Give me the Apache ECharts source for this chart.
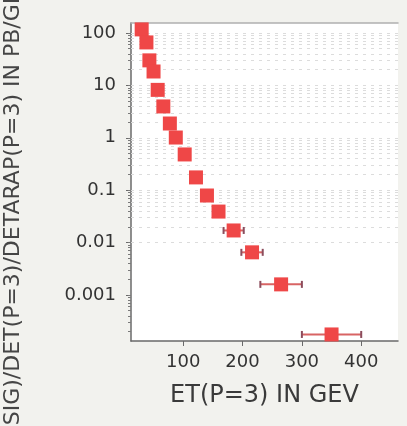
<!DOCTYPE html>
<html><head><meta charset="utf-8">
<script src="https://cdn.jsdelivr.net/npm/echarts@6/dist/echarts.min.js"></script>
<style>html,body{margin:0;padding:0;background:#f2f2ee;}#c{width:407px;height:426px;}</style>
</head><body><div id="c"></div>
<script>
// ---- data ----
const etCenters = [30, 38, 43, 50, 57, 66.5, 77.5, 87.5, 102.5, 121.5, 140, 159.5, 185, 216, 265, 350];
const etLow     = [27, 35, 40, 47, 54, 63, 74, 84, 99, 118, 136, 155, 168, 198, 230, 300];
const etHigh    = [33, 41, 46, 53, 60, 70, 81, 91, 106, 125, 144, 164, 202, 234, 300, 400];
const xsec      = [117, 66, 30, 18.4, 8.2, 3.96, 1.87, 1.01, 0.48, 0.175, 0.079, 0.039, 0.017, 0.0065, 0.00159, 0.000176];
const xTickValues = [100, 200, 300, 400];
const yTickValues = [0.001, 0.01, 0.1, 1, 10, 100];
const yTickLabels = ['0.001', '0.01', '0.1', '1', '10', '100'];
const yDecades = [0.0001, 0.001, 0.01, 0.1, 1, 10, 100];
const yMultipliers = [1, 2, 3, 4, 5, 6, 7, 8, 9];
const yMin = 1.32e-4, yMax = 155, xMin = 12, xMax = 462;

const gridValues = [];
yDecades.forEach(d => yMultipliers.forEach(m => {
  const v = +(d * m).toPrecision(6);
  if (v > yMin && v < yMax) gridValues.push(v);
}));

const FONT = 'DejaVu Sans';
const chart = echarts.init(document.getElementById('c'));
chart.setOption({
  animation: false,
  backgroundColor: '#f2f2ee',
  grid: { left: 131, right: 9, top: 23, bottom: 85, show: true, backgroundColor: '#ffffff', borderWidth: 0 },
  graphic: [{
    type: 'text', x: 13, y: 213, rotation: Math.PI / 2,
    style: { text: 'D(SIG)/DET(P=3)/DETARAP(P=3) IN PB/GEV', fontSize: 22, fontFamily: FONT,
             fill: '#454545', textAlign: 'center', textVerticalAlign: 'middle', align: 'center', verticalAlign: 'middle' }
  }],
  xAxis: [{
    type: 'value', min: xMin, max: xMax, position: 'bottom',
    axisLine: { show: true, onZero: false, lineStyle: { color: '#6a6a6a', width: 1.5 } },
    axisTick: { show: true, customValues: xTickValues, length: 5, lineStyle: { color: '#6a6a6a' } },
    axisLabel: { customValues: xTickValues, fontSize: 18, color: '#333', fontFamily: FONT, margin: 12 },
    splitLine: { show: false },
    name: 'ET(P=3) IN GEV', nameLocation: 'middle', nameGap: 43,
    nameTextStyle: { fontSize: 24, color: '#3a3a3a', fontFamily: FONT }
  }, {
    type: 'value', min: xMin, max: xMax, position: 'top',
    axisLine: { show: true, onZero: false, lineStyle: { color: '#b0b0b0', width: 1.5 } },
    axisTick: { show: false }, axisLabel: { show: false }, splitLine: { show: false }
  }],
  yAxis: [{
    type: 'log', logBase: 10, min: yMin, max: yMax, position: 'left',
    axisLine: { show: true, onZero: false, lineStyle: { color: '#6a6a6a', width: 1.5 } },
    axisTick: { show: true, customValues: yTickValues, length: 5, lineStyle: { color: '#6a6a6a' } },
    axisLabel: { customValues: yTickValues, fontSize: 18, color: '#333', fontFamily: FONT, margin: 15,
      formatter: v => {
        for (let i = 0; i < yTickValues.length; i++) {
          if (Math.abs(Math.log10(v) - Math.log10(yTickValues[i])) < 1e-6) return yTickLabels[i];
        }
        return '';
      } },
    splitLine: { show: false }
  }, {
    type: 'log', logBase: 10, min: yMin, max: yMax, position: 'left',
    axisLine: { show: false },
    axisTick: { show: true, customValues: gridValues, length: 3, lineStyle: { color: '#7a7a7a' } },
    axisLabel: { show: false }, splitLine: { show: false }
  }],
  series: [{
    type: 'line', data: [], z: 1, silent: true,
    markLine: {
      silent: true, z: 1, symbol: ['none', 'none'], label: { show: false }, animation: false,
      lineStyle: { type: [3, 5], color: '#dcdcdc', width: 1 },
      data: gridValues.map(v => ({ yAxis: v }))
    }
  }, {
    type: 'custom', z: 4,
    data: etCenters.map((x, i) => [x, xsec[i], etLow[i], etHigh[i]]),
    encode: { x: [0, 2, 3], y: 1 },
    renderItem: (params, api) => {
      const yv = api.value(1);
      const p0 = api.coord([api.value(2), yv]);
      const p1 = api.coord([api.value(3), yv]);
      const h = 3.5;
      return { type: 'group', children: [
        { type: 'line', shape: { x1: p0[0], y1: p0[1], x2: p1[0], y2: p1[1] }, style: { stroke: '#d86464', lineWidth: 2 } },
        { type: 'line', shape: { x1: p0[0], y1: p0[1] - h, x2: p0[0], y2: p0[1] + h }, style: { stroke: '#8c4c5c', lineWidth: 2 } },
        { type: 'line', shape: { x1: p1[0], y1: p1[1] - h, x2: p1[0], y2: p1[1] + h }, style: { stroke: '#8c4c5c', lineWidth: 2 } }
      ] };
    }
  }, {
    type: 'scatter', z: 6,
    data: etCenters.map((x, i) => [x, xsec[i]]),
    symbol: 'rect', symbolSize: 14,
    itemStyle: { color: '#ef4747', opacity: 1 }
  }]
});
</script></body></html>
